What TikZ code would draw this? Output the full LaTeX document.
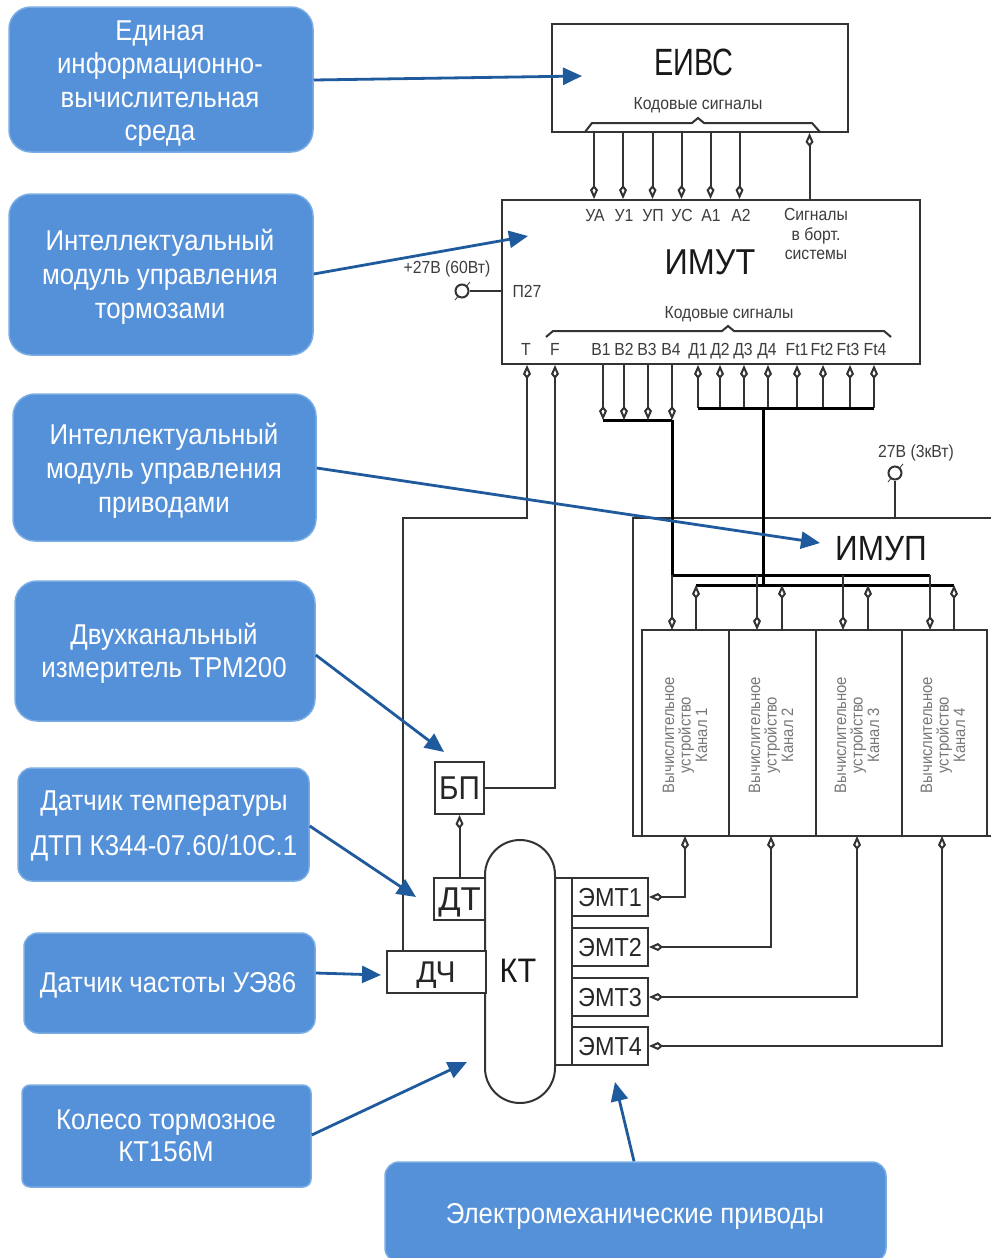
\documentclass[tikz,border=0pt]{standalone}
\usepackage{fontspec}
\setmainfont{Liberation Sans}
\newfontfamily\condfont[FakeStretch=0.90]{Liberation Sans}
\newfontfamily\narrowfont[FakeStretch=0.76]{Liberation Sans}
\usetikzlibrary{arrows.meta}
\definecolor{bluebox}{HTML}{5591D9}
\definecolor{blueedge}{HTML}{7AACE4}
\definecolor{bluearrow}{HTML}{1F5A9C}
\definecolor{ink}{HTML}{333333}
\definecolor{soft}{HTML}{3D3D3D}
\definecolor{greytext}{HTML}{777777}
\newcommand{\fsz}[1]{\fontsize{#1}{#1}\selectfont}
\tikzset{
  x=1pt,y=-1pt,
  infobox/.style={fill=bluebox,draw=blueedge,line width=1.5pt,rounded corners=22pt,inner sep=0pt},
  infotext/.style={text=white,font=\condfont\fsz{28.7},inner sep=0pt,anchor=center,text height=20.7pt,text depth=0pt},
  callout/.style={bluearrow,line width=2.8pt,-{Triangle[length=19pt,width=17pt]}},
  unitbox/.style={draw=ink,line width=2pt,fill=white,inner sep=0pt,text depth=0pt,text=black!85},
  wire/.style={ink,line width=2pt},
  sig/.style={ink,line width=2pt,-{Kite[open,length=14pt,width=8pt,inset=5pt]}},
  sigboth/.style={ink,line width=2pt,{Kite[open,length=14pt,width=8pt,inset=5pt]}-{Kite[open,length=14pt,width=8pt,inset=5pt]}},
  bus/.style={black,line width=3pt},
  small/.style={text=soft,font=\condfont\fsz{17.5},inner sep=0pt,text height=12.6pt,text depth=0pt},
  multi/.style={text=soft,font=\condfont\fsz{17.5},inner sep=0pt,align=center},
  big/.style={text=black!90,inner sep=0pt,text depth=0pt},
  emt/.style={unitbox,minimum width=76pt,minimum height=38pt,font=\condfont\fsz{26},text height=18.7pt},
  chan/.style={draw=ink,line width=2pt,inner sep=0pt,minimum height=206pt},
  rot/.style={text=greytext,font=\condfont\fsz{16.5},rotate=90,align=center,inner sep=0pt},
  term/.style={circle,draw=ink,line width=2pt,fill=white,minimum size=13pt,inner sep=0pt},
  stub/.style={ink,line width=.8pt}
}
\begin{document}
\begin{tikzpicture}
\useasboundingbox (0,0) rectangle (991,1258);

% ---------- blue captions
\node[infobox,minimum width=304pt,minimum height=145pt] (b1) at (161,79.5) {};
\node[infotext] (b1a) at (160,30) {Единая};
\node[infotext] (b1b) at (160,63) {информационно-};
\node[infotext] (b1c) at (160,97) {вычислительная};
\node[infotext] (b1d) at (160,130) {среда};
\node[infobox,minimum width=304pt,minimum height=161pt] (b2) at (161,274.5) {};
\node[infotext] (b2a) at (160,240) {Интеллектуальный};
\node[infotext] (b2b) at (160,274) {модуль управления};
\node[infotext] (b2c) at (160,308) {тормозами};
\node[infobox,minimum width=303pt,minimum height=147pt] (b3) at (164.5,467.5) {};
\node[infotext] (b3a) at (164,434) {Интеллектуальный};
\node[infotext] (b3b) at (164,468) {модуль управления};
\node[infotext] (b3c) at (164,502) {приводами};
\node[infobox,minimum width=300pt,minimum height=140pt] (b4) at (165,651) {};
\node[infotext] (b4a) at (164,634) {Двухканальный};
\node[infotext] (b4b) at (164,667) {измеритель ТРМ200};
\node[infobox,rounded corners=14pt,minimum width=291pt,minimum height=113pt] (b5) at (163.5,824.5) {};
\node[infotext] (b5a) at (164,800) {Датчик температуры};
\node[infotext] (b5b) at (164,845) {ДТП К344-07.60/10С.1};
\node[infobox,rounded corners=14pt,minimum width=291pt,minimum height=100pt] (b6) at (169.5,983) {};
\node[infotext] (b6a) at (168,982) {Датчик частоты УЭ86};
\node[infobox,rounded corners=8pt,minimum width=289pt,minimum height=102pt] (b7) at (166.5,1136) {};
\node[infotext] (b7a) at (166,1119) {Колесо тормозное};
\node[infotext] (b7b) at (166,1151) {КТ156М};
\node[infobox,rounded corners=14pt,minimum width=501pt,minimum height=100pt] (b8) at (635.5,1212) {};
\node[infotext] (b8a) at (635,1213) {Электромеханические приводы};

% ---------- EIVS
\node[unitbox,minimum width=296pt,minimum height=108pt] (eivs) at (700,78) {};
\node[big,font=\narrowfont\fsz{38},text height=27.4pt] (eivsT) at (694,62) {ЕИВС};
\node[small] (eivsK) at (698,103) {Кодовые сигналы};
\coordinate (ba) at (585,132); \coordinate (bb) at (592,123); \coordinate (bc) at (692,123);
\coordinate (bd) at (698,118); \coordinate (be) at (704,123); \coordinate (bf) at (812,123); \coordinate (bg) at (820,132);
\draw[wire] (ba) -- (bb) -- (bc) -- (bd) -- (be) -- (bf) -- (bg);

% ---------- IMUT
\node[unitbox,minimum width=418pt,minimum height=164pt] (imut) at (711,282) {};
\node[big,font=\condfont\fsz{36},text height=26pt] (imutT) at (710,261) {ИМУТ};
\foreach \n/\x/\t in {ua/595/УА,u1/624/У1,up/653/УП,uc/682/УС,a1/711/А1,a2/741/А2}
  \node[small] (l\n) at (\x,215) {\t};
\node[multi] (lsig) at (816,234) {Сигналы\\[2pt]в борт.\\[2pt]системы};
\foreach \n/\x in {ua/594,u1/623,up/652.5,uc/681.5,a1/710.5,a2/739.5}
  \draw[sig] (eivs.south -| \x,0) -- (imut.north -| \x,0);
\draw[sig] (imut.north -| 809.5,0) -- (eivs.south -| 809.5,0);

\node[small] (p27) at (527,291) {П27};
\node[small] (v27) at (447,267) {+27В (60Вт)};
\draw[stub] (455,300) -- (470,282);
\node[term] (t27) at (462,291) {};
\draw[wire] (t27) -- (t27 -| imut.west);

\node[small] (imutK) at (729,312) {Кодовые сигналы};
\coordinate (ca) at (546,337); \coordinate (cb) at (553,331); \coordinate (cc) at (722,331);
\coordinate (cd) at (728,326); \coordinate (ce) at (734,331); \coordinate (cf) at (884,331); \coordinate (cg) at (891,337);
\draw[wire] (ca) -- (cb) -- (cc) -- (cd) -- (ce) -- (cf) -- (cg);

\foreach \n/\x/\t in {t/526/T,f/555/F,b1/601/В1,b2/624/В2,b3/647/В3,b4/671/В4,d1/698/Д1,d2/720/Д2,d3/743/Д3,d4/767/Д4,ft1/797/Ft1,ft2/822/Ft2,ft3/848/Ft3,ft4/875/Ft4}
  \node[small] (l\n) at (\x,349) {\t};

% lower IMUT buses
\coordinate (vbl) at (603,420); \coordinate (vbr) at (672,420);
\foreach \x in {603,624,648,672}
  \draw[sig] (imut.south -| \x,0) -- (\x,420);
\draw[bus] (vbl) -- (vbr);
\coordinate (dbl) at (698,408); \coordinate (dbr) at (874,408);
\foreach \x in {698,720,744,768,797,823,850,874}
  \draw[sig] (\x,408) -- (imut.south -| \x,0);
\draw[bus] (dbl) -- (dbr);

% ---------- IMUP
\coordinate (ipa) at (633,836); \coordinate (ipb) at (633,518); \coordinate (ipc) at (991,518); \coordinate (ipd) at (991,836);
\draw[wire] (ipd) -- (ipa) -- (ipb) -- (ipc);
\draw[stub] (888,482) -- (903,464);
\node[term] (t3k) at (895,473) {};
\draw[wire] (t3k) -- (t3k |- ipc);
\node[small] (v3k) at (916,451) {27В (3кВт)};
\node[big,font=\condfont\fsz{35},text height=25.2pt] (imupT) at (881,548) {ИМУП};

\node[chan,minimum width=87pt] (ch1) at (685.5,733) {};
\node[chan,minimum width=87pt] (ch2) at (772.5,733) {};
\node[chan,minimum width=86pt] (ch3) at (859,733) {};
\node[chan,minimum width=85pt] (ch4) at (944.5,733) {};
\foreach \c/\x/\k in {ch1/685/1,ch2/771/2,ch3/857/3,ch4/943/4}
  \node[rot] (r\c) at (\x,735) {Вычислительное\\устройство\\Канал \k};

\coordinate (v1) at (672,575); \coordinate (v2) at (930,575);
\coordinate (d1) at (763,585); \coordinate (dl) at (696,585); \coordinate (dr) at (954,585);
\draw[bus] (vbr) -- (v1) -- (v2);
\draw[bus] (dbl -| d1) -- (d1);
\draw[bus] (dl) -- (dr);
\foreach \x in {672,757,843,930}
  \draw[sig] (\x,575) -- (\x,630);
\foreach \x in {696,782,868,954}
  \draw[sig] (\x,630) -- (\x,585);

% ---------- lower-left units
\node[draw=ink,line width=2pt,fill=white,rounded corners=35pt,minimum width=70pt,minimum height=263pt,inner sep=0pt] (kt) at (520,971.5) {};
\node[big,font=\condfont\fsz{34},text height=24.5pt] (ktT) at (518,970) {КТ};
\node[unitbox,minimum width=49pt,minimum height=52pt,font=\condfont\fsz{33},text height=23.8pt] (bp) at (459.5,788) {БП};
\node[unitbox,minimum width=51pt,minimum height=42pt,font=\fsz{33},text height=23.8pt] (dt) at (459.5,899) {ДТ};
\node[unitbox,minimum width=99pt,minimum height=42pt,font=\fsz{30},text height=21.6pt] (dch) at (436,972) {ДЧ};
\draw[sig] (dt.north -| bp.south) -- (bp.south);

\coordinate (cwt) at (555,878); \coordinate (cwb) at (555,1065);
\coordinate (cwr) at (572,878); \coordinate (cwq) at (572,1065);
\draw[wire] (cwt) -- (cwr) -- (cwq) -- (cwb);

\node[emt] (e1) at (610,897) {ЭМТ1};
\node[emt] (e2) at (610,947) {ЭМТ2};
\node[emt] (e3) at (610,997) {ЭМТ3};
\node[emt] (e4) at (610,1046) {ЭМТ4};

% double arrows between the channels and the drives
\draw[sigboth] (e1.east) -| (685,836);
\draw[sigboth] (e2.east) -| (771,836);
\draw[sigboth] (e3.east) -| (857,836);
\draw[sigboth] (e4.east) -| (942,836);

% T and F feeds
\coordinate (tk) at (527,518); \coordinate (tl) at (403,518);
\draw[sig] (dch.north -| tl) -- (tl) -- (tk) -- (imut.south -| tk);
\coordinate (fk) at (555,788);
\draw[sig] (bp.east) -- (fk) -- (imut.south -| fk);

% ---------- blue arrows
\coordinate (a1) at (582,76);
\coordinate (a2) at (528,236);
\coordinate (a3) at (820,543);
\coordinate (a4) at (444,752);
\coordinate (a5) at (416,897);
\coordinate (a6) at (381,975);
\coordinate (a7) at (467,1062);
\coordinate (a8) at (615,1082);
\draw[callout] (b1.east |- 0,80) -- (a1);
\draw[callout] (b2.east |- 0,274) -- (a2);
\draw[callout] (b3.east |- 0,468) -- (a3);
\draw[callout] (b4.east |- 0,655) -- (a4);
\draw[callout] (b5.east |- 0,826) -- (a5);
\draw[callout] (b6.east |- 0,973) -- (a6);
\draw[callout] (b7.east |- 0,1135) -- (a7);
\draw[callout] (b8.north -| 634,0) -- (a8);
\end{tikzpicture}
\end{document}
